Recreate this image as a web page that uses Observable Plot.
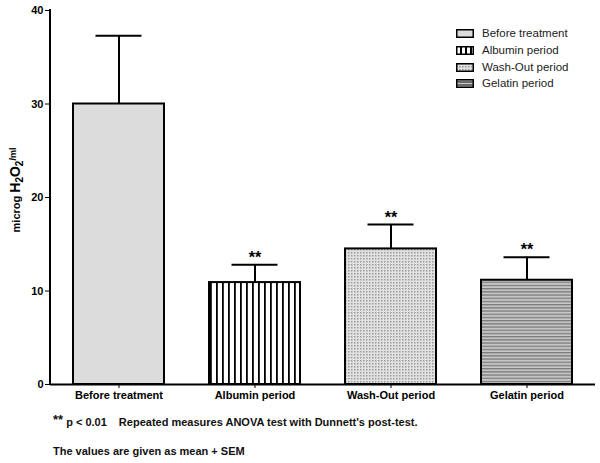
<!DOCTYPE html>
<html><head><meta charset="utf-8">
<script src="https://cdn.jsdelivr.net/npm/d3@7"></script>
<script src="https://cdn.jsdelivr.net/npm/@observablehq/plot@0.6"></script>
<style>
body{margin:0;background:#fff;font-family:"Liberation Sans",Arial,sans-serif;}
#wrap{position:relative;width:600px;height:463px;background:#fff;}
#wrap svg.plot{display:block;}
.leg{position:absolute;left:456px;height:14px;display:flex;align-items:center;font-size:11.5px;color:#222;white-space:nowrap;}
.leg svg{margin-right:8px;display:block;}
.foot{position:absolute;left:53px;font-size:11px;font-weight:bold;line-height:13px;color:#111;white-space:nowrap;}
</style></head><body><div id="wrap"></div>
<script>
const groups = ["Before treatment", "Albumin period", "Wash-Out period", "Gelatin period"];
const means = [30.0, 10.9, 14.5, 11.15];
const sems = [7.3, 1.9, 2.6, 2.45];
const significance = ["", "**", "**", "**"];
const fills = ["#dcdcdc", "url(#pat-albumin)", "url(#pat-washout)", "url(#pat-gelatin)"];
const legendFills = ["#dcdcdc", "url(#pat-albumin-leg)", "url(#pat-washout)", "url(#pat-gelatin-leg)"];
const yTicks = [0, 10, 20, 30, 40];

const data = groups.map((g, i) => ({group: g, mean: means[i], sem: sems[i], sig: significance[i], fill: fills[i]}));

const plot = Plot.plot({
  width: 600, height: 410,
  marginLeft: 50, marginRight: 5, marginTop: 10, marginBottom: 26,
  style: {fontFamily: "Liberation Sans, Arial, sans-serif", fontSize: "11px", fontWeight: "bold", color: "#000", background: "#fff"},
  x: {domain: groups, paddingInner: 0.333, paddingOuter: 0.167, label: null, tickSize: 4, tickPadding: 3},
  y: {domain: [0, 40], ticks: yTicks, tickSize: 5, tickPadding: 2, label: null},
  color: {type: "identity"},
  marks: [
    Plot.barY(data, {x: "group", y: "mean", fill: "fill", stroke: "#000", strokeWidth: 2}),
    Plot.ruleX(data, {x: "group", y1: "mean", y2: d => d.mean + d.sem, stroke: "#000", strokeWidth: 2}),
    Plot.tickY(data, {x: "group", y: d => d.mean + d.sem, stroke: "#000", strokeWidth: 2, insetLeft: 22.5, insetRight: 22.5}),
    Plot.text(data, {x: "group", y: d => d.mean + d.sem, text: "sig", dy: -7, fontSize: 16, fontWeight: "bold", fill: "#000"}),
    Plot.ruleY([0], {stroke: "#000", strokeWidth: 2})
  ]
});
plot.classList.add("plot");

const svg = d3.select(plot);
const defs = svg.insert("defs", ":first-child");
// Albumin: vertical black stripes on white
let p = defs.append("pattern").attr("id", "pat-albumin").attr("patternUnits", "userSpaceOnUse").attr("width", 6).attr("height", 10);
p.append("rect").attr("width", 6).attr("height", 10).attr("fill", "#fff");
p.append("rect").attr("x", 0).attr("width", 1.8).attr("height", 10).attr("fill", "#000");
p = defs.append("pattern").attr("id", "pat-albumin-leg").attr("patternUnits", "userSpaceOnUse").attr("width", 5).attr("height", 10);
p.append("rect").attr("width", 5).attr("height", 10).attr("fill", "#000");
p.append("rect").attr("x", 1).attr("width", 3).attr("height", 10).attr("fill", "#fff");
// Wash-Out: fine dots
p = defs.append("pattern").attr("id", "pat-washout").attr("patternUnits", "userSpaceOnUse").attr("width", 3).attr("height", 3);
p.append("rect").attr("width", 3).attr("height", 3).attr("fill", "#e2e2e2");
p.append("rect").attr("width", 1.5).attr("height", 1.5).attr("fill", "#9a9a9a");
// Gelatin: horizontal stripes
p = defs.append("pattern").attr("id", "pat-gelatin").attr("patternUnits", "userSpaceOnUse").attr("width", 10).attr("height", 3.2);
p.append("rect").attr("width", 10).attr("height", 3.2).attr("fill", "#c6c6c6");
p.append("rect").attr("y", 0).attr("width", 10).attr("height", 1.3).attr("fill", "#7c7c7c");
p = defs.append("pattern").attr("id", "pat-gelatin-leg").attr("patternUnits", "userSpaceOnUse").attr("width", 10).attr("height", 3);
p.append("rect").attr("width", 10).attr("height", 3).attr("fill", "#6a6a6a");
p.append("rect").attr("y", 1).attr("width", 10).attr("height", 1).attr("fill", "#c8c8c8");

// y-axis line
const ys = plot.scale("y");
svg.append("line").attr("x1", 50).attr("x2", 50)
  .attr("y1", ys.apply(40) - 1).attr("y2", ys.apply(0) + 1)
  .attr("stroke", "#000").attr("stroke-width", 2);

// y-axis label with subscripts
const ylab = svg.append("text").attr("transform", "translate(20,190) rotate(-90)")
  .attr("text-anchor", "middle").attr("font-weight", "bold").attr("fill", "#000");
ylab.append("tspan").attr("font-size", 11).text("microg ");
ylab.append("tspan").attr("font-size", 14).text("H");
ylab.append("tspan").attr("font-size", 10).attr("dy", 3).text("2");
ylab.append("tspan").attr("font-size", 14).attr("dy", -3).text("O");
ylab.append("tspan").attr("font-size", 10).attr("dy", 3).text("2");
ylab.append("tspan").attr("font-size", 9).attr("dy", -7).text("/ml");

const wrap = document.getElementById("wrap");
wrap.appendChild(plot);

// legend
const rowCenters = [33, 50, 67, 83];
groups.forEach((g, i) => {
  const row = document.createElement("div");
  row.className = "leg";
  row.style.top = (rowCenters[i] - 7) + "px";
  row.innerHTML = `<svg width="18" height="9"><rect x="0.75" y="0.75" width="16.5" height="7.5" fill="${legendFills[i]}" stroke="#000" stroke-width="1.5"/></svg><span>${g}</span>`;
  wrap.appendChild(row);
});

// footnotes
const f1 = document.createElement("div");
f1.className = "foot"; f1.style.top = "415px";
f1.innerHTML = `<span style="font-size:13px;position:relative;top:-2px">**</span> p &lt; 0.01<span style="display:inline-block;width:12px"></span>Repeated measures ANOVA test with Dunnett's post-test.`;
wrap.appendChild(f1);
const f2 = document.createElement("div");
f2.className = "foot"; f2.style.top = "445px";
f2.textContent = "The values are given as mean + SEM";
wrap.appendChild(f2);
</script></body></html>
